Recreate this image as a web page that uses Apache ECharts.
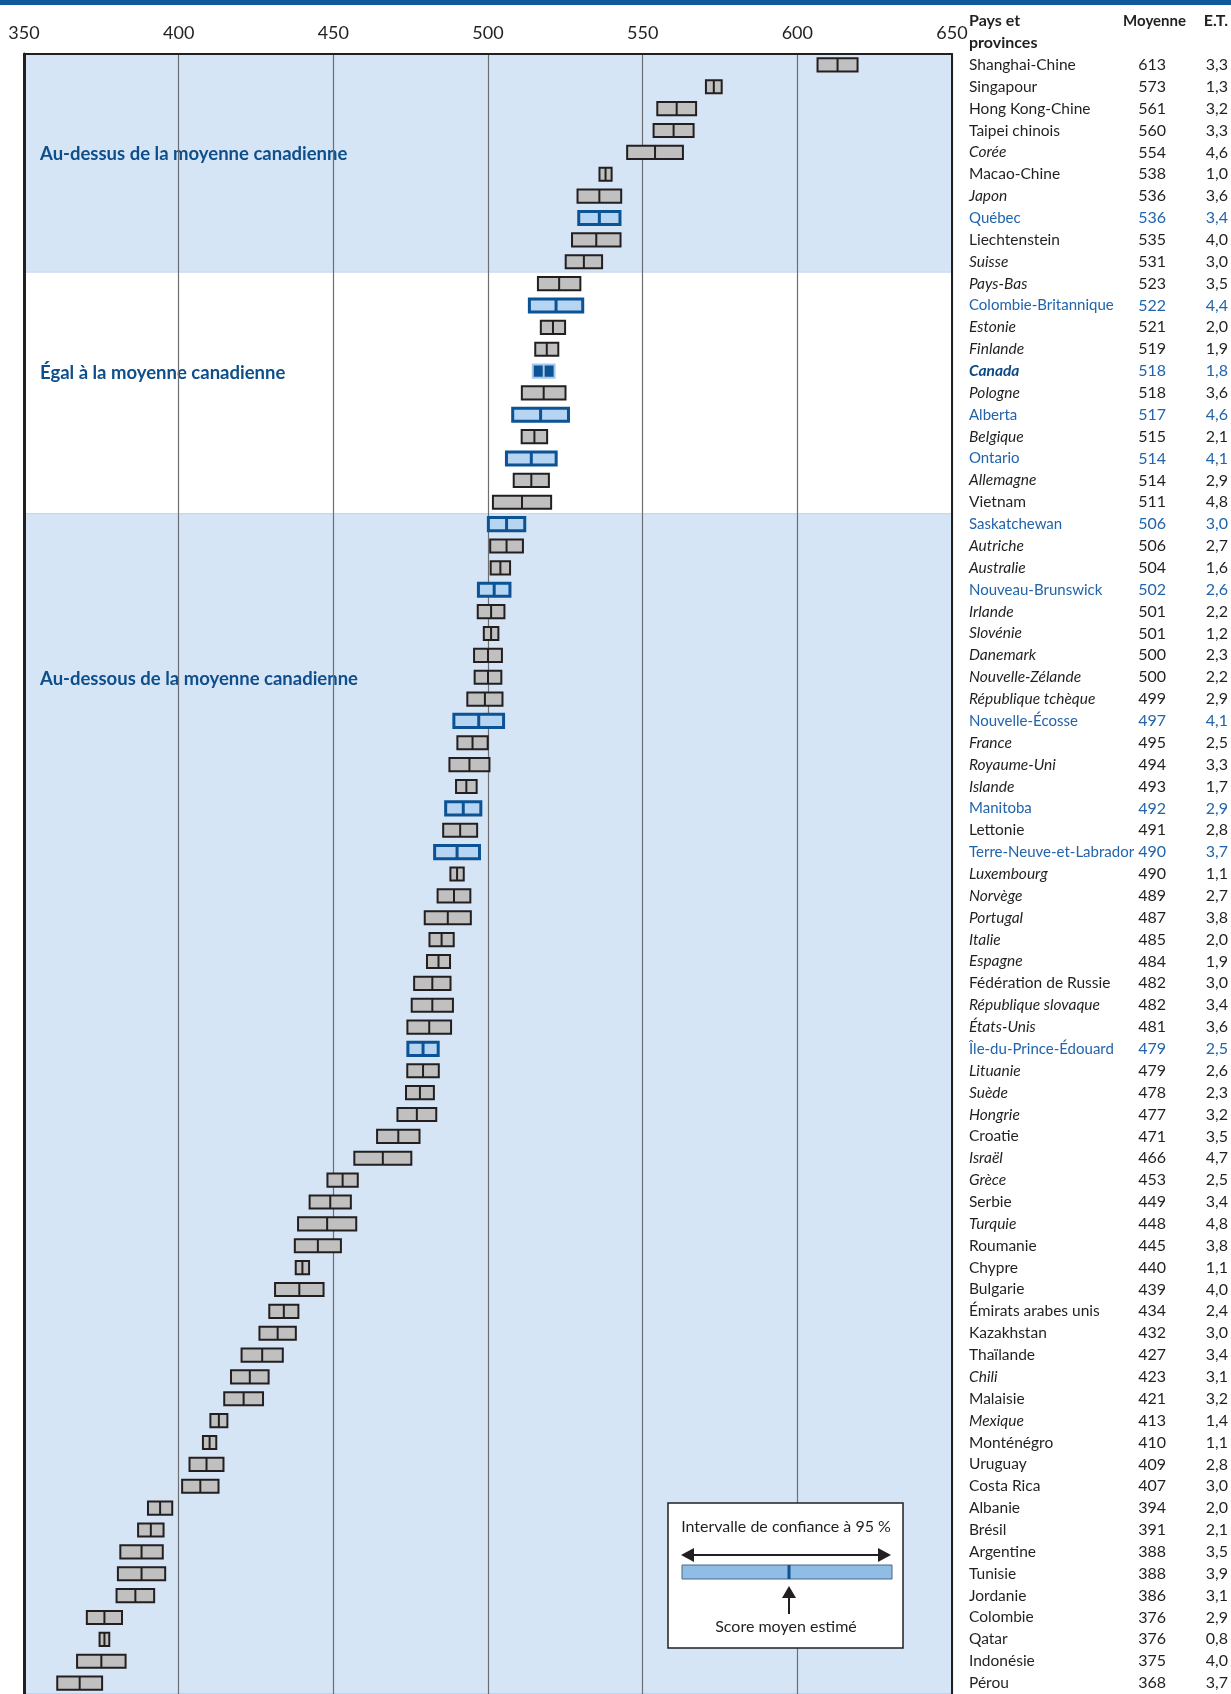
<!DOCTYPE html>
<html>
<head>
<meta charset="utf-8">
<script src="https://cdn.jsdelivr.net/npm/echarts@6/dist/echarts.min.js"></script>
<style>
  html, body { margin: 0; padding: 0; background: #fff; }
  #chart { width: 1231px; height: 1694px; }
</style>
</head>
<body>
<div id="chart"></div>
<script>
// pays et provinces, du plus haut au plus bas score moyen
const names = [
  'Shanghai-Chine', 'Singapour', 'Hong Kong-Chine', 'Taipei chinois', 'Corée', 'Macao-Chine', 'Japon', 'Québec',
  'Liechtenstein', 'Suisse', 'Pays-Bas', 'Colombie-Britannique', 'Estonie', 'Finlande', 'Canada', 'Pologne',
  'Alberta', 'Belgique', 'Ontario', 'Allemagne', 'Vietnam', 'Saskatchewan', 'Autriche', 'Australie',
  'Nouveau-Brunswick', 'Irlande', 'Slovénie', 'Danemark', 'Nouvelle-Zélande', 'République tchèque', 'Nouvelle-Écosse', 'France',
  'Royaume-Uni', 'Islande', 'Manitoba', 'Lettonie', 'Terre-Neuve-et-Labrador', 'Luxembourg', 'Norvège', 'Portugal',
  'Italie', 'Espagne', 'Fédération de Russie', 'République slovaque', 'États-Unis', 'Île-du-Prince-Édouard', 'Lituanie', 'Suède',
  'Hongrie', 'Croatie', 'Israël', 'Grèce', 'Serbie', 'Turquie', 'Roumanie', 'Chypre',
  'Bulgarie', 'Émirats arabes unis', 'Kazakhstan', 'Thaïlande', 'Chili', 'Malaisie', 'Mexique', 'Monténégro',
  'Uruguay', 'Costa Rica', 'Albanie', 'Brésil', 'Argentine', 'Tunisie', 'Jordanie', 'Colombie',
  'Qatar', 'Indonésie', 'Pérou'
]
const means = [
  613, 573, 561, 560, 554, 538, 536, 536,
  535, 531, 523, 522, 521, 519, 518, 518,
  517, 515, 514, 514, 511, 506, 506, 504,
  502, 501, 501, 500, 500, 499, 497, 495,
  494, 493, 492, 491, 490, 490, 489, 487,
  485, 484, 482, 482, 481, 479, 479, 478,
  477, 471, 466, 453, 449, 448, 445, 440,
  439, 434, 432, 427, 423, 421, 413, 410,
  409, 407, 394, 391, 388, 388, 386, 376,
  376, 375, 368
]
const errors = [
  3.3, 1.3, 3.2, 3.3, 4.6, 1.0, 3.6, 3.4,
  4.0, 3.0, 3.5, 4.4, 2.0, 1.9, 1.8, 3.6,
  4.6, 2.1, 4.1, 2.9, 4.8, 3.0, 2.7, 1.6,
  2.6, 2.2, 1.2, 2.3, 2.2, 2.9, 4.1, 2.5,
  3.3, 1.7, 2.9, 2.8, 3.7, 1.1, 2.7, 3.8,
  2.0, 1.9, 3.0, 3.4, 3.6, 2.5, 2.6, 2.3,
  3.2, 3.5, 4.7, 2.5, 3.4, 4.8, 3.8, 1.1,
  4.0, 2.4, 3.0, 3.4, 3.1, 3.2, 1.4, 1.1,
  2.8, 3.0, 2.0, 2.1, 3.5, 3.9, 3.1, 2.9,
  0.8, 4.0, 3.7
]
// n = autre pays, o = pays de l'OCDE (italique), p = province, c = Canada
const kinds = [
  'n', 'n', 'n', 'n', 'o', 'n', 'o', 'p',
  'n', 'o', 'o', 'p', 'o', 'o', 'c', 'o',
  'p', 'o', 'p', 'o', 'n', 'p', 'o', 'o',
  'p', 'o', 'o', 'o', 'o', 'o', 'p', 'o',
  'o', 'o', 'p', 'n', 'p', 'o', 'o', 'o',
  'o', 'o', 'n', 'o', 'o', 'p', 'o', 'o',
  'o', 'n', 'o', 'o', 'n', 'o', 'n', 'n',
  'n', 'n', 'n', 'n', 'o', 'n', 'o', 'n',
  'n', 'n', 'n', 'n', 'n', 'n', 'n', 'n',
  'n', 'n', 'n'
]
const xTicks = [350, 400, 450, 500, 550, 600, 650]

// bandes : au-dessus / égal / au-dessous de la moyenne canadienne
const bandFirst = [0, 10, 21]
const bandLast = [9, 20, 74]
const bandLabelRow = [4, 14, 28]
const bandLabels = [
  'Au-dessus de la moyenne canadienne',
  'Égal à la moyenne canadienne',
  'Au-dessous de la moyenne canadienne'
]
const bandShaded = [true, false, true]

const FONT = 'Lato'
const DARK = '#231f20'
const BLUE = '#0b5394'
const TEXT_BLUE = '#2164ab'

const chart = echarts.init(document.getElementById('chart'))

const barData = means.map((m, i) => [m, m - 1.96 * errors[i], m + 1.96 * errors[i], i])
const bandData = bandFirst.map((f, i) => [350, f, bandLast[i], bandShaded[i] ? 1 : 0])
const bandLabelData = bandLabelRow.map((r, i) => [350, r])

function renderBand(params, api) {
  const first = api.value(1)
  const last = api.value(2)
  const shaded = api.value(3)
  const rowH = api.size([0, 1])[1]
  const p0 = api.coord([350, first])
  const p1 = api.coord([650, last])
  const y0 = p0[1] - rowH / 2
  const y1 = p1[1] + rowH / 2
  const children = [{
    type: 'rect',
    shape: { x: p0[0], y: y0, width: p1[0] - p0[0], height: y1 - y0 },
    style: { fill: shaded ? '#d6e5f5' : '#ffffff' }
  }]
  if (shaded) {
    children.push({ type: 'line', shape: { x1: p0[0], y1: y0 + 0.5, x2: p1[0], y2: y0 + 0.5 }, style: { stroke: '#bcd4ee', lineWidth: 1 } })
    children.push({ type: 'line', shape: { x1: p0[0], y1: y1 - 0.5, x2: p1[0], y2: y1 - 0.5 }, style: { stroke: '#bcd4ee', lineWidth: 1 } })
  }
  return { type: 'group', children: children }
}

function renderBandLabel(params, api) {
  const p = api.coord([api.value(0), api.value(1)])
  return {
    type: 'text',
    x: p[0] + 16,
    y: p[1] + 2,
    style: {
      text: bandLabels[params.dataIndex],
      fill: '#0e4f8b',
      font: 'bold 18.5px ' + FONT,
      verticalAlign: 'middle',
      align: 'left'
    }
  }
}

function renderBar(params, api) {
  const row = api.value(3)
  const kind = kinds[row]
  const c = api.coord([api.value(0), row])
  const lo = api.coord([api.value(1), row])
  const hi = api.coord([api.value(2), row])
  const h = api.size([0, 1])[1] * 0.6
  let fill = '#c0c0c0', stroke = DARK, lw = 2
  if (kind === 'p') { fill = '#b5d5f2'; stroke = BLUE; lw = 3 }
  if (kind === 'c') { fill = BLUE; stroke = '#a6c9ec'; lw = 2 }
  return {
    type: 'group',
    children: [
      {
        type: 'rect',
        shape: { x: lo[0], y: c[1] - h / 2, width: hi[0] - lo[0], height: h },
        style: { fill: fill, stroke: stroke, lineWidth: lw }
      },
      {
        type: 'line',
        shape: { x1: c[0], y1: c[1] - h / 2, x2: c[0], y2: c[1] + h / 2 },
        style: { stroke: stroke, lineWidth: lw }
      }
    ]
  }
}

function fmtSe(v) {
  return v.toFixed(1).replace('.', ',')
}

const NAME_SIZE = 15.5
const rich = {
  nn: { width: 155, align: 'left', fontSize: NAME_SIZE, fontFamily: FONT, color: DARK },
  on: { width: 155, align: 'left', fontSize: NAME_SIZE, fontFamily: FONT, color: DARK, fontStyle: 'italic' },
  pn: { width: 155, align: 'left', fontSize: 15, fontFamily: FONT, color: TEXT_BLUE },
  cn: { width: 155, align: 'left', fontSize: NAME_SIZE, fontFamily: FONT, color: '#0b4a85', fontStyle: 'italic', fontWeight: 'bold' },
  km: { width: 42, align: 'right', fontSize: 16, fontFamily: FONT, color: DARK },
  bm: { width: 42, align: 'right', fontSize: 16, fontFamily: FONT, color: TEXT_BLUE },
  ks: { width: 62, align: 'right', fontSize: 16, fontFamily: FONT, color: DARK },
  bs: { width: 62, align: 'right', fontSize: 16, fontFamily: FONT, color: TEXT_BLUE }
}

// petit encadré de légende
const LZ = 20
const legendBox = [
  { type: 'rect', z: LZ, shape: { x: 668, y: 1503, width: 235, height: 145 }, style: { fill: '#fff', stroke: DARK, lineWidth: 1.5 } },
  { type: 'text', z: LZ, x: 786, y: 1527, style: { text: 'Intervalle de confiance à 95 %', font: '16px ' + FONT, fill: DARK, align: 'center', verticalAlign: 'middle' } },
  { type: 'line', z: LZ, shape: { x1: 688, y1: 1555, x2: 885, y2: 1555 }, style: { stroke: DARK, lineWidth: 2 } },
  { type: 'polygon', z: LZ, shape: { points: [[681, 1555], [694, 1548], [694, 1562]] }, style: { fill: DARK } },
  { type: 'polygon', z: LZ, shape: { points: [[891, 1555], [878, 1548], [878, 1562]] }, style: { fill: DARK } },
  { type: 'rect', z: LZ, shape: { x: 682, y: 1565, width: 210, height: 14 }, style: { fill: '#8fbde6', stroke: '#4b6784', lineWidth: 1 } },
  { type: 'line', z: LZ, shape: { x1: 789, y1: 1565, x2: 789, y2: 1579 }, style: { stroke: BLUE, lineWidth: 3 } },
  { type: 'line', z: LZ, shape: { x1: 789, y1: 1594, x2: 789, y2: 1614 }, style: { stroke: DARK, lineWidth: 2 } },
  { type: 'polygon', z: LZ, shape: { points: [[789, 1586], [782, 1598], [796, 1598]] }, style: { fill: DARK } },
  { type: 'text', z: LZ, x: 786, y: 1627, style: { text: 'Score moyen estimé', font: '16px ' + FONT, fill: DARK, align: 'center', verticalAlign: 'middle' } }
]

chart.setOption({
  animation: false,
  textStyle: { fontFamily: FONT },
  grid: { left: 24, top: 54, width: 928, height: 75 * 21.9 },
  xAxis: {
    type: 'value',
    position: 'top',
    min: xTicks[0],
    max: xTicks[xTicks.length - 1],
    interval: 50,
    z: 3,
    axisLine: { show: true, lineStyle: { color: DARK, width: 2 } },
    axisTick: { show: false },
    axisLabel: { fontSize: 18, color: DARK, margin: 12, fontFamily: FONT },
    splitLine: { show: true, lineStyle: { color: '#6d6e71', width: 1.2 } }
  },
  yAxis: [
    {
      type: 'category',
      inverse: true,
      data: names,
      z: 3,
      axisLine: { show: true, lineStyle: { color: DARK, width: 3 } },
      axisTick: { show: false },
      axisLabel: { show: false },
      splitLine: { show: false }
    },
    {
      type: 'category',
      inverse: true,
      position: 'right',
      data: names,
      z: 3,
      axisLine: { show: true, lineStyle: { color: DARK, width: 2 } },
      axisTick: { show: false },
      axisLabel: {
        margin: 17,
        align: 'left',
        rich: rich,
        formatter: function (value, idx) {
          const k = kinds[idx]
          const b = (k === 'p' || k === 'c') ? 'b' : 'k'
          return '{' + k + 'n|' + value + '}{' + b + 'm|' + means[idx] + '}{' + b + 's|' + fmtSe(errors[idx]) + '}'
        }
      }
    }
  ],
  graphic: [
    { type: 'rect', left: 0, top: 0, shape: { width: 1231, height: 5 }, style: { fill: '#0f5a9b' } },
    { type: 'text', x: 969, y: 21, style: { text: 'Pays et', font: 'bold 16px ' + FONT, fill: DARK, verticalAlign: 'middle' } },
    { type: 'text', x: 969, y: 43, style: { text: 'provinces', font: 'bold 16px ' + FONT, fill: DARK, verticalAlign: 'middle' } },
    { type: 'text', x: 1186, y: 21, style: { text: 'Moyenne', font: 'bold 15px ' + FONT, fill: DARK, align: 'right', verticalAlign: 'middle' } },
    { type: 'text', x: 1228, y: 21, style: { text: 'E.T.', font: 'bold 16px ' + FONT, fill: DARK, align: 'right', verticalAlign: 'middle' } }
  ].concat(legendBox),
  series: [
    {
      type: 'custom',
      name: 'bandes',
      z: 1,
      silent: true,
      renderItem: renderBand,
      encode: { x: 0, y: 1 },
      data: bandData
    },
    {
      type: 'custom',
      name: 'etiquettes',
      z: 2,
      silent: true,
      renderItem: renderBandLabel,
      encode: { x: 0, y: 1 },
      data: bandLabelData
    },
    {
      type: 'custom',
      name: 'Score moyen',
      z: 5,
      renderItem: renderBar,
      encode: { x: [0, 1, 2], y: 3 },
      data: barData
    }
  ]
})
</script>
</body>
</html>
